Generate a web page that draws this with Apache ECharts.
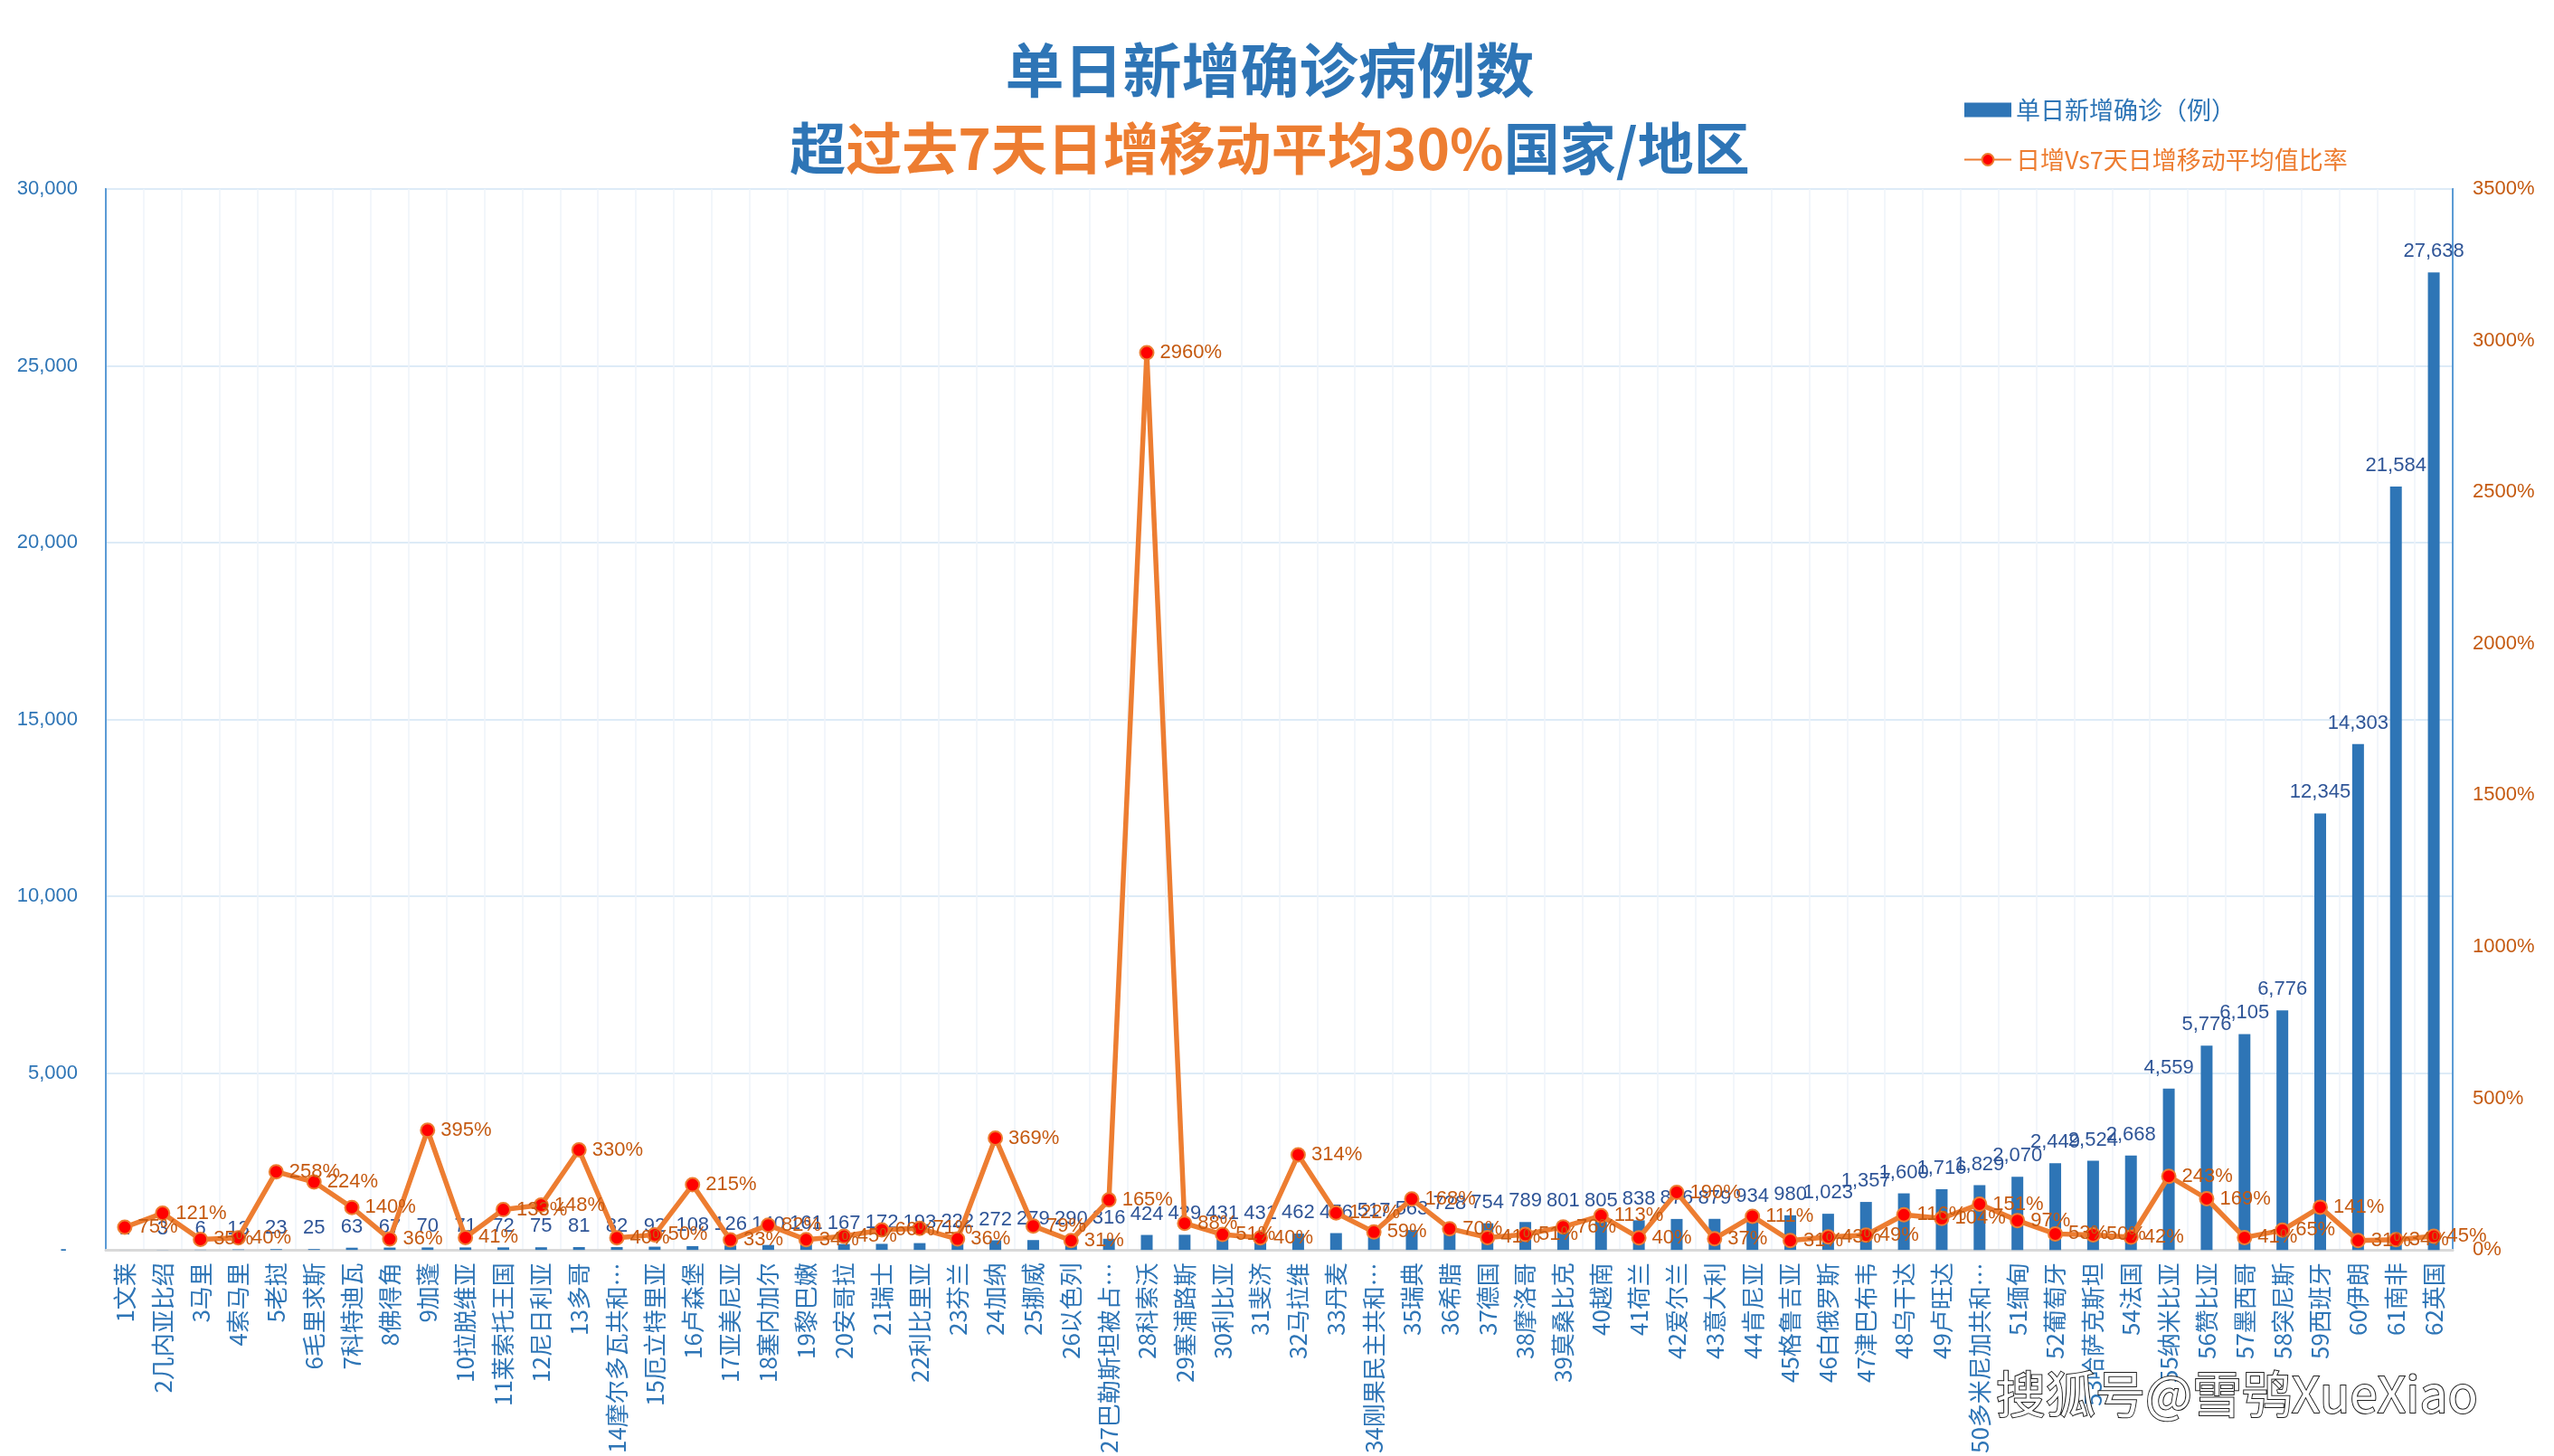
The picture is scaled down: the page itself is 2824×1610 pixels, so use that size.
<!DOCTYPE html>
<html>
<head>
<meta charset="utf-8">
<script src="https://cdn.jsdelivr.net/npm/echarts@6/dist/echarts.min.js"></script>
<style>
html,body{margin:0;padding:0;background:#fff;}
#chart{width:2824px;height:1610px;}
</style>
</head>
<body>
<div id="chart"></div>
<script>
const categories = ['1文莱','2几内亚比绍','3马里','4索马里','5老挝','6毛里求斯','7科特迪瓦','8佛得角','9加蓬','10拉脱维亚','11莱索托王国','12尼日利亚','13多哥','14摩尔多瓦共和…','15厄立特里亚','16卢森堡','17亚美尼亚','18塞内加尔','19黎巴嫩','20安哥拉','21瑞士','22利比里亚','23芬兰','24加纳','25挪威','26以色列','27巴勒斯坦被占…','28科索沃','29塞浦路斯','30利比亚','31斐济','32马拉维','33丹麦','34刚果民主共和…','35瑞典','36希腊','37德国','38摩洛哥','39莫桑比克','40越南','41荷兰','42爱尔兰','43意大利','44肯尼亚','45格鲁吉亚','46白俄罗斯','47津巴布韦','48乌干达','49卢旺达','50多米尼加共和…','51缅甸','52葡萄牙','53哈萨克斯坦','54法国','55纳米比亚','56赞比亚','57墨西哥','58突尼斯','59西班牙','60伊朗','61南非','62英国'];

const newCases = [1,3,6,13,23,25,63,67,70,71,72,75,81,82,92,108,126,140,161,167,172,193,222,272,279,290,316,424,429,431,431,462,476,517,563,728,754,789,801,805,838,876,879,934,980,1023,1357,1600,1716,1829,2070,2449,2524,2668,4559,5776,6105,6776,12345,14303,21584,27638];

const ratioPct = [75,121,35,40,258,224,140,36,395,41,133,148,330,40,50,215,33,82,34,45,66,71,36,369,79,31,165,2960,88,51,40,314,122,59,168,70,41,51,76,113,40,190,37,111,31,43,49,116,104,151,97,53,50,42,243,169,41,65,141,31,34,45];

const barName = '单日新增确诊（例）';
const lineName = '日增Vs7天日增移动平均值比率';
const titleLine1 = '单日新增确诊病例数';
const titleLine2a = '超';
const titleLine2b = '过去7天日增移动平均30%';
const titleLine2c = '国家/地区';
const watermark = '搜狐号@雪鸮XueXiao';

const numFont = "'Liberation Sans', Arial, sans-serif";
const cjkFont = "'Noto Sans CJK SC', 'Noto Sans', sans-serif";
const fmtThousands = v => String(v).replace(/\B(?=(\d{3})+(?!\d))/g, ',');

const chart = echarts.init(document.getElementById('chart'));
chart.setOption({
  backgroundColor: '#ffffff',
  animation: false,
  title: {
    text: '{a|' + titleLine1 + '}\n{b|' + titleLine2a + '}{c|' + titleLine2b + '}{b|' + titleLine2c + '}',
    left: 1399,
    top: 29,
    textAlign: 'center',
    textStyle: {
      rich: {
        a: {fontFamily: cjkFont, fontWeight: 'bold', fontSize: 65, color: '#2E75B6', lineHeight: 87},
        b: {fontFamily: cjkFont, fontWeight: 'bold', fontSize: 62, color: '#2E75B6', lineHeight: 87},
        c: {fontFamily: cjkFont, fontWeight: 'bold', fontSize: 62, color: '#ED7D31', lineHeight: 87}
      }
    }
  },
  legend: {
    orient: 'vertical',
    left: 2166,
    top: 101,
    itemWidth: 52,
    itemHeight: 16,
    itemGap: 24,
    data: [
      {name: barName, icon: 'rect', textStyle: {color: '#2E75B6'}},
      {name: lineName, textStyle: {color: '#ED7D31'}}
    ],
    textStyle: {fontFamily: cjkFont, fontSize: 27, lineHeight: 31}
  },
  grid: {
    left: 117, right: 112, top: 209, bottom: 220,
    show: true, borderColor: '#5B9BD5', borderWidth: 2
  },
  xAxis: {
    type: 'category',
    data: categories,
    boundaryGap: true,
    axisLine: {show: true, lineStyle: {color: '#D9D9D9', width: 3}},
    axisTick: {show: false},
    splitLine: {show: true, lineStyle: {color: '#EEF3FA', width: 1.5}},
    axisLabel: {
      interval: 0, rotate: 90, margin: 14,
      color: '#2E75B6', fontFamily: cjkFont, fontSize: 26
    }
  },
  yAxis: [
    {
      type: 'value', min: 0, max: 30000, interval: 5000,
      axisLine: {show: true, lineStyle: {color: '#5B9BD5', width: 2}},
      axisTick: {show: false},
      splitLine: {show: true, lineStyle: {color: '#DDEBF7', width: 2}},
      axisLabel: {
        margin: 31, color: '#2E75B6', fontFamily: numFont, fontSize: 22,
        formatter: v => v === 0 ? '-  ' : fmtThousands(v)
      }
    },
    {
      type: 'value', min: 0, max: 3500, interval: 500,
      axisLine: {show: true, lineStyle: {color: '#5B9BD5', width: 2}},
      axisTick: {show: false},
      splitLine: {show: false},
      axisLabel: {
        margin: 22, color: '#C55A11', fontFamily: numFont, fontSize: 22,
        formatter: v => v + '%'
      }
    }
  ],
  series: [
    {
      name: barName,
      type: 'bar',
      data: newCases,
      barWidth: 13,
      itemStyle: {color: '#2E75B6'},
      label: {
        show: true, position: 'top', distance: 12,
        color: '#2F5597', fontFamily: numFont, fontSize: 22,
        formatter: p => fmtThousands(p.value)
      },
      z: 2
    },
    {
      name: lineName,
      type: 'line',
      yAxisIndex: 1,
      data: ratioPct,
      symbol: 'circle',
      symbolSize: 15,
      lineStyle: {color: '#ED7D31', width: 5.5},
      itemStyle: {color: '#FF0000', borderColor: '#ED7D31', borderWidth: 2},
      label: {
        show: true, position: 'right', distance: 6,
        color: '#C55A11', fontFamily: numFont, fontSize: 22,
        formatter: p => p.value + '%'
      },
      z: 5
    }
  ],
  graphic: [
    {
      type: 'text',
      left: 2206,
      top: 1513,
      z: 100,
      style: {
        text: watermark,
        fontFamily: cjkFont,
        fontSize: 55,
        fill: '#ffffff',
        stroke: '#222222',
        lineWidth: 2,
        shadowColor: 'rgba(0,0,0,0.8)',
        shadowOffsetX: 2,
        shadowOffsetY: 2,
        shadowBlur: 2
      }
    }
  ]
});
</script>
</body>
</html>
